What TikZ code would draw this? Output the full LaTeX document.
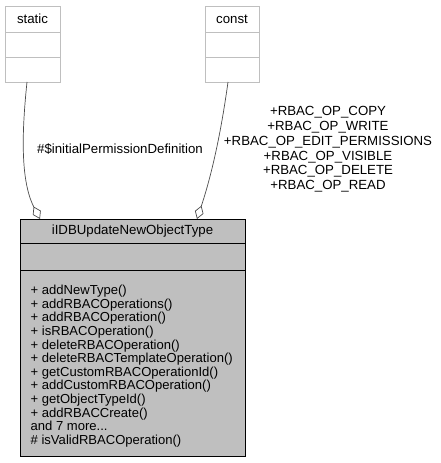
\documentclass[tikz,border=0pt]{standalone}
\usepackage{fontspec}
\setmainfont{Liberation Sans}
\usetikzlibrary{arrows.meta}
\begin{document}
\begin{tikzpicture}[x=1bp,y=-1bp,
  lightbox/.style={draw=black!25,fill=white,line width=0.8bp},
  mainbox/.style={draw=black,fill=black!25,line width=0.8bp},
  lbl/.style={font=\fontsize{13.3}{14.8}\selectfont,inner sep=0pt,align=center},
  agg/.style={draw=black!70,line width=0.7bp,-{Diamond[open,fill=white,length=14bp,width=9bp]}}]
\useasboundingbox (0,0) rectangle (441,463);
% static box
\draw[lightbox] (5,6) rectangle (60,82);
\draw[black!25,line width=0.8bp] (5,32) -- (60,32) (5,57) -- (60,57);
\node[lbl] (static) at (32.5,19) {static};
\coordinate (staticb) at (27,82);
% const box
\draw[lightbox] (205,6) rectangle (259,82);
\draw[black!25,line width=0.8bp] (205,32) -- (259,32) (205,57) -- (259,57);
\node[lbl] (const) at (232,19) {const};
\coordinate (constb) at (228,82);
% main box
\draw[mainbox] (20,219) rectangle (245,456);
\draw[black,line width=0.8bp] (20,243) -- (245,243) (20,270) -- (245,270);
\node[lbl] (main) at (132.5,231) {iIDBUpdateNewObjectType};
\coordinate (d1) at (40,219);
\coordinate (d2) at (197,219);
\node[lbl,anchor=north west,align=left,font=\fontsize{13.1}{13.65}\selectfont] (methods) at (30.5,285) {%
+ addNewType()\\
+ addRBACOperations()\\
+ addRBACOperation()\\
+ isRBACOperation()\\
+ deleteRBACOperation()\\
+ deleteRBACTemplateOperation()\\
+ getCustomRBACOperationId()\\
+ addCustomRBACOperation()\\
+ getObjectTypeId()\\
+ addRBACCreate()\\
and 7 more...\\
\# isValidRBACOperation()};
% edges
\draw[agg] (staticb) .. controls (22,130) and (20,180) .. (d1);
\draw[agg] (constb) .. controls (220,140) and (210,180) .. (d2);
\node[lbl] (l1) at (120,149) {\#\$initialPermissionDefinition};
\node[lbl] (l2) at (328,149.5) {+RBAC\_OP\_COPY\\+RBAC\_OP\_WRITE\\+RBAC\_OP\_EDIT\_PERMISSIONS\\+RBAC\_OP\_VISIBLE\\+RBAC\_OP\_DELETE\\+RBAC\_OP\_READ};
\end{tikzpicture}
\end{document}
